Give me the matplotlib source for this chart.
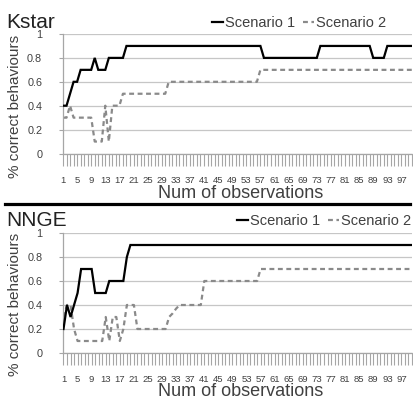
import matplotlib
matplotlib.use("Agg")
import matplotlib.pyplot as plt
from matplotlib.lines import Line2D
import numpy as np

plt.rcParams['font.family'] = ['Liberation Sans', 'DejaVu Sans']

categories = list(range(1, 101))
tick_labels = [str(v) for v in range(1, 101, 4)]

kstar_s1 = [0.4, 0.4, 0.5, 0.6, 0.6, 0.7, 0.7, 0.7, 0.7, 0.8,
            0.7, 0.7, 0.7, 0.8, 0.8, 0.8, 0.8, 0.8, 0.9, 0.9,
            0.9, 0.9, 0.9, 0.9, 0.9, 0.9, 0.9, 0.9, 0.9, 0.9,
            0.9, 0.9, 0.9, 0.9, 0.9, 0.9, 0.9, 0.9, 0.9, 0.9,
            0.9, 0.9, 0.9, 0.9, 0.9, 0.9, 0.9, 0.9, 0.9, 0.9,
            0.9, 0.9, 0.9, 0.9, 0.9, 0.9, 0.9, 0.8, 0.8, 0.8,
            0.8, 0.8, 0.8, 0.8, 0.8, 0.8, 0.8, 0.8, 0.8, 0.8,
            0.8, 0.8, 0.8, 0.9, 0.9, 0.9, 0.9, 0.9, 0.9, 0.9,
            0.9, 0.9, 0.9, 0.9, 0.9, 0.9, 0.9, 0.9, 0.8, 0.8,
            0.8, 0.8, 0.9, 0.9, 0.9, 0.9, 0.9, 0.9, 0.9, 0.9]

kstar_s2 = [0.3, 0.3, 0.4, 0.3, 0.3, 0.3, 0.3, 0.3, 0.3, 0.1,
            0.1, 0.1, 0.4, 0.1, 0.4, 0.4, 0.4, 0.5, 0.5, 0.5,
            0.5, 0.5, 0.5, 0.5, 0.5, 0.5, 0.5, 0.5, 0.5, 0.5,
            0.6, 0.6, 0.6, 0.6, 0.6, 0.6, 0.6, 0.6, 0.6, 0.6,
            0.6, 0.6, 0.6, 0.6, 0.6, 0.6, 0.6, 0.6, 0.6, 0.6,
            0.6, 0.6, 0.6, 0.6, 0.6, 0.6, 0.7, 0.7, 0.7, 0.7,
            0.7, 0.7, 0.7, 0.7, 0.7, 0.7, 0.7, 0.7, 0.7, 0.7,
            0.7, 0.7, 0.7, 0.7, 0.7, 0.7, 0.7, 0.7, 0.7, 0.7,
            0.7, 0.7, 0.7, 0.7, 0.7, 0.7, 0.7, 0.7, 0.7, 0.7,
            0.7, 0.7, 0.7, 0.7, 0.7, 0.7, 0.7, 0.7, 0.7, 0.7]

nnge_s1 = [0.2, 0.4, 0.3, 0.4, 0.5, 0.7, 0.7, 0.7, 0.7, 0.5,
           0.5, 0.5, 0.5, 0.6, 0.6, 0.6, 0.6, 0.6, 0.8, 0.9,
           0.9, 0.9, 0.9, 0.9, 0.9, 0.9, 0.9, 0.9, 0.9, 0.9,
           0.9, 0.9, 0.9, 0.9, 0.9, 0.9, 0.9, 0.9, 0.9, 0.9,
           0.9, 0.9, 0.9, 0.9, 0.9, 0.9, 0.9, 0.9, 0.9, 0.9,
           0.9, 0.9, 0.9, 0.9, 0.9, 0.9, 0.9, 0.9, 0.9, 0.9,
           0.9, 0.9, 0.9, 0.9, 0.9, 0.9, 0.9, 0.9, 0.9, 0.9,
           0.9, 0.9, 0.9, 0.9, 0.9, 0.9, 0.9, 0.9, 0.9, 0.9,
           0.9, 0.9, 0.9, 0.9, 0.9, 0.9, 0.9, 0.9, 0.9, 0.9,
           0.9, 0.9, 0.9, 0.9, 0.9, 0.9, 0.9, 0.9, 0.9, 0.9]

nnge_s2 = [0.3, 0.4, 0.4, 0.2, 0.1, 0.1, 0.1, 0.1, 0.1, 0.1,
           0.1, 0.1, 0.3, 0.1, 0.3, 0.3, 0.1, 0.2, 0.4, 0.4,
           0.4, 0.2, 0.2, 0.2, 0.2, 0.2, 0.2, 0.2, 0.2, 0.2,
           0.3, 0.33, 0.37, 0.4, 0.4, 0.4, 0.4, 0.4, 0.4, 0.4,
           0.6, 0.6, 0.6, 0.6, 0.6, 0.6, 0.6, 0.6, 0.6, 0.6,
           0.6, 0.6, 0.6, 0.6, 0.6, 0.6, 0.7, 0.7, 0.7, 0.7,
           0.7, 0.7, 0.7, 0.7, 0.7, 0.7, 0.7, 0.7, 0.7, 0.7,
           0.7, 0.7, 0.7, 0.7, 0.7, 0.7, 0.7, 0.7, 0.7, 0.7,
           0.7, 0.7, 0.7, 0.7, 0.7, 0.7, 0.7, 0.7, 0.7, 0.7,
           0.7, 0.7, 0.7, 0.7, 0.7, 0.7, 0.7, 0.7, 0.7, 0.7]

panels = [("Kstar", kstar_s1, kstar_s2), ("NNGE", nnge_s1, nnge_s2)]
series_names = ["Scenario 1", "Scenario 2"]

W, H = 414, 400
fig = plt.figure(figsize=(W / 100, H / 100), dpi=100)

# pixel layout: (left, top, right, bottom)
boxes = [(63, 34, 412, 153.5), (63.5, 233, 412, 353)]
title_pos = [(6, 27.5), (6, 226.5)]
legend_pos = [(386, 23), (411, 221)]
xlabel_y = [193, 391.5]
ylabel_y = [106, 304]

grid_c = '#c6c6c6'
tick_c = '#a6a6a6'
text_c = '#404040'

for (name, s1, s2), (l, t, r, b), (tx, ty), (lx, ly), xly, yly in zip(
        panels, boxes, title_pos, legend_pos, xlabel_y, ylabel_y):
    ax = fig.add_axes([l / W, 1 - b / H, (r - l) / W, (b - t) / H])
    ax.plot(categories, s1, color='black', lw=1.6, label=series_names[0],
            solid_joinstyle='miter', zorder=3)
    ax.plot(categories, s2, color='#8a8a8a', lw=1.6, dashes=(2.2, 1.6),
            label=series_names[1], zorder=2)
    ax.set_xlim(1, 100)
    ax.set_ylim(0, 1)
    yt = [0, 0.2, 0.4, 0.6, 0.8, 1.0]
    ax.set_yticks(yt)
    ax.set_yticklabels(['0', '0.2', '0.4', '0.6', '0.8', '1'])
    ax.yaxis.grid(True, color=grid_c, lw=0.9)
    ax.set_axisbelow(True)
    ax.set_xticks(list(range(1, 101, 4)))
    ax.set_xticklabels(tick_labels)
    ax.set_xticks(categories, minor=True)
    for sp in ['top', 'right']:
        ax.spines[sp].set_visible(False)
    ax.spines['left'].set_color(tick_c)
    ax.spines['bottom'].set_color(tick_c)
    ax.spines['left'].set_linewidth(0.9)
    ax.spines['bottom'].set_linewidth(0.9)
    ax.tick_params(axis='x', which='both', length=8.6, width=0.8,
                   color=tick_c, direction='out')
    ax.tick_params(axis='x', which='major', labelsize=6.8, labelcolor=text_c, pad=7.5)
    ax.tick_params(axis='y', length=3, width=0.8, color=tick_c,
                   labelsize=7.8, labelcolor=text_c, pad=12)
    ax.set_ylabel('% correct behaviours', fontsize=11, color=text_c)
    ax.yaxis.label.set_va('center')
    ax.yaxis.set_label_coords((15 - l) / (r - l), (b - yly) / (b - t))
    ax.set_xlabel('Num of observations', fontsize=13, color=text_c)
    ax.xaxis.label.set_va('center')
    ax.xaxis.set_label_coords((241 - l) / (r - l), (b - xly) / (b - t))
    fig.text(tx / W, 1 - ty / H, name, fontsize=15, va='baseline', ha='left',
             color='#222222')
    leg = ax.legend(loc='center right', bbox_to_anchor=(lx / W, 1 - ly / H),
                    bbox_transform=fig.transFigure, ncol=2, frameon=False,
                    fontsize=10.5, handlelength=0.75, handletextpad=0.15,
                    columnspacing=0.5, borderpad=0, borderaxespad=0)
    for txt in leg.get_texts():
        txt.set_color(text_c)

fig.add_artist(Line2D([5 / W, 410 / W], [1 - 203.5 / H] * 2, color='black',
                      lw=2.3, transform=fig.transFigure))

fig.savefig('out.png', dpi=100)
